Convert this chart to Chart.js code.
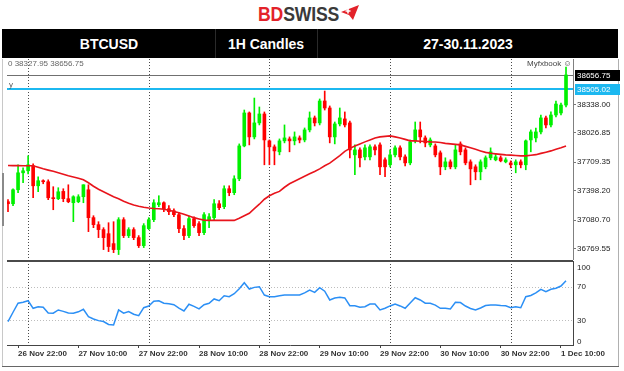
<!DOCTYPE html>
<html>
<head>
<meta charset="utf-8">
<script src="https://cdn.jsdelivr.net/npm/chart.js@4.4.0/dist/chart.umd.min.js"></script>
<style>
body{margin:0;width:624px;height:371px;position:relative;overflow:hidden;background:#fff;font-family:"Liberation Sans",Arial,sans-serif;}
#logo{position:absolute;left:258px;top:2px;font-size:21px;font-weight:bold;line-height:24px;transform:scaleX(0.84);transform-origin:left top;letter-spacing:-0.2px;white-space:nowrap}
#logo .bd{color:#e3222a}
#logo .sw{color:#3a3a3a}
#plane{position:absolute;left:341px;top:5px}
#header{position:absolute;left:2px;top:29px;width:616px;height:29px;background:#000}
.hcell{position:absolute;top:0;height:29px;line-height:30px;color:#fff;font-weight:bold;font-size:14px;text-align:center}
.hsep{position:absolute;top:0;width:1px;height:29px;background:#2a2a2a}
#pw{position:absolute;left:7px;top:59px;width:613px;height:201px}
#rw{position:absolute;left:7px;top:261px;width:613px;height:110px}
.note{position:absolute;font-size:8px;color:#666;white-space:nowrap}
.frame{position:absolute;background:#9a9a9a}
</style>
</head>
<body>
<div id="logo"><span class="bd">BD</span><span class="sw">SWISS</span></div>
<svg id="plane" width="18" height="16" viewBox="0 0 18 16">
<polygon points="0,7 18,0 12,15 8,10" fill="#e3222a"/>
<path d="M7 3.5v5M4.5 6h5" stroke="#fff" stroke-width="1.6"/>
</svg>
<div id="header">
<div class="hcell" style="left:57px;width:100px">BTCUSD</div>
<div class="hsep" style="left:213px"></div>
<div class="hcell" style="left:204px;width:120px">1H Candles</div>
<div class="hsep" style="left:315px"></div>
<div class="hcell" style="left:406px;width:120px">27-30.11.2023</div>
</div>

<div class="frame" style="left:2px;top:59px;width:1px;height:308px;background:#c8c8c8"></div>
<div class="frame" style="left:2px;top:173px;width:2px;height:53px;background:#8a8a8a"></div>
<div class="frame" style="left:618px;top:59px;width:1px;height:308px;background:#b0b0b0"></div>
<div class="frame" style="left:2px;top:366px;width:617px;height:1px;background:#666"></div>

<div id="pw"><canvas id="priceChart"></canvas></div>
<div class="frame" style="left:7px;top:260px;width:566px;height:2px;background:#4a4a4a"></div>
<div id="rw"><canvas id="rsiChart"></canvas></div>

<div class="note" style="left:8px;top:59px">0 38327.95 38656.75</div>
<div class="note" style="left:9px;top:80px;color:#555">y</div>
<div class="note" style="left:527px;top:59px;color:#444">Myfxbook &#9786;</div>

<script>
// BTCUSD 1H candles, 26 Nov 20:00 .. 1 Dec 11:00

const open = [37280,37258,37410,37594,37616,37670,37453,37508,37497,37323,
37313,37392,37313,37269,37280,37334,37410,37107,37031,36977,
36933,36825,36760,37085,36912,36977,36890,36803,36988,37085,
37247,37269,37204,37182,37139,36988,36912,37096,37042,36944,
37085,37107,37258,37226,37421,37378,37529,37886,38244,37984,
38136,38233,37941,37876,37822,37941,37962,37941,37973,37951,
38060,38190,38136,38374,38298,37984,38125,38179,38136,37789,
37843,37767,37767,37876,37897,37735,37681,37789,37865,37767,
37702,37941,38060,37973,37897,37886,37811,37659,37713,37659,
37908,37843,37713,37659,37605,37659,37757,37735,37757,37713,
37702,37681,37713,37681,37951,37973,38038,38190,38114,38222,
38244,38330];

const high = [37302,37421,37681,37648,37778,37692,37551,37518,37518,37443,
37432,37421,37464,37345,37356,37464,37464,37128,37063,36998,
37052,37063,37107,37107,36998,36998,36912,37042,37107,37302,
37345,37280,37237,37204,37161,37020,37128,37117,37063,37161,
37150,37302,37291,37453,37453,37562,37908,38276,38255,38406,
38309,38255,37951,37897,37962,38114,37984,38038,37995,38081,
38255,38211,38396,38482,38320,38146,38298,38255,38157,37897,
37865,37897,37897,37897,37919,37757,37843,37886,37886,37789,
37951,38146,38146,37995,37973,37908,37832,37757,37735,37897,
37930,37865,37735,37681,37735,37778,37865,37800,37778,37757,
37724,37735,37735,37951,38060,38081,38222,38211,38255,38374,
38352,38742];

const low = [37172,37237,37378,37486,37583,37323,37388,37475,37302,37193,
37302,37280,37269,37063,37269,37269,36955,36998,36890,36760,
36738,36727,36706,36890,36890,36868,36782,36782,36977,37063,
37226,37172,37139,37117,36944,36868,36890,37000,36912,36923,
36998,37085,37193,37204,37345,37356,37508,37876,37897,37962,
38114,37681,37681,37681,37789,37919,37822,37897,37919,37930,
38038,38103,38114,38276,37919,37908,38103,38092,37757,37573,
37659,37735,37735,37789,37573,37551,37659,37767,37735,37670,
37681,37919,37919,37876,37876,37767,37573,37627,37637,37637,
37789,37681,37464,37518,37518,37637,37735,37724,37713,37702,
37648,37594,37648,37627,37822,37930,38016,38081,38092,38200,
38222,38309];

const close = [37258,37410,37594,37616,37681,37453,37508,37497,37323,37313,
37388,37313,37280,37334,37334,37464,37107,37031,36977,36890,
36793,36760,37085,36912,36977,36890,36803,37020,37085,37269,
37269,37204,37172,37139,36988,36912,37096,37020,36944,37139,
37117,37258,37215,37421,37378,37529,37886,38244,37984,38136,
38233,37951,37876,37832,37941,37973,37941,37984,37951,38060,
38190,38136,38374,38298,37984,38125,38190,38114,37843,37843,
37757,37865,37876,37843,37659,37659,37789,37865,37767,37702,
37930,38060,37984,37919,37951,37789,37659,37713,37659,37843,
37822,37702,37637,37605,37713,37757,37822,37767,37724,37735,
37681,37713,37681,37941,38038,38038,38190,38114,38222,38341,
38330,38656.75];

// red moving average
const ma = [37673,37672,37672,37671,37670,37670,37654,37637,37623,37610,
37594,37578,37562,37549,37535,37518,37486,37448,37415,37388,
37361,37334,37313,37285,37264,37245,37231,37220,37212,37207,
37204,37199,37188,37174,37161,37145,37125,37107,37093,37080,
37077,37077,37077,37077,37077,37077,37101,37128,37155,37204,
37253,37307,37345,37372,37392,37437,37475,37502,37529,37556,
37583,37608,37637,37670,37699,37740,37781,37827,37859,37886,
37908,37930,37951,37973,37984,37990,37995,37984,37973,37957,
37941,37941,37937,37934,37930,37928,37924,37914,37908,37903,
37897,37881,37865,37849,37832,37816,37807,37800,37794,37789,
37786,37782,37778,37778,37784,37791,37805,37818,37832,37849,
37865,37886];

// RSI panel
const rsi = [28.8,40,50.7,52,53.7,44.7,46.6,46,39,38.8,
42.7,41,39,38.8,40.5,43.5,34.7,32,30,29,
25.5,24.9,42.7,38.8,40.7,37.6,35.9,45.4,47.4,53,
53.7,50.7,50,49,45,41.5,49.5,47,44,49,
50.7,55.8,53.7,59.7,58.5,62,68,75.1,67.6,69.6,
70.4,60.5,58.5,58.5,59.5,60.5,60.5,60.5,60.5,63,
66.4,63.7,69.2,65,54.6,57,57.8,57,47.8,47.8,
45.9,46.5,49.8,49.8,42.7,44.7,47.5,49.8,47.5,44.7,
51,57.3,54.6,50.7,50.7,48.5,44.7,44.7,44,51.8,
51.5,47.4,44.5,42.7,45,48,48.6,48.6,48,47.8,
45.4,46.6,45.4,58.5,60,63,67.3,64.4,67.3,68.5,
71.2,77.5];

const tickIndex = [2,14,26,38,50,62,74,86,98,110];
const tickLabels = ["26 Nov 22:00","27 Nov 10:00","27 Nov 22:00","28 Nov 10:00","28 Nov 22:00",
"29 Nov 10:00","29 Nov 22:00","30 Nov 10:00","30 Nov 22:00","1 Dec 10:00"];
const dayStarts = [4,28,52,76,100];   // 00:00 bars -> period separators
const priceTicks = [38338.00,38026.85,37709.35,37398.20,37080.70,36769.55];
const rsiLevels = [100,70,30,0];
const bidPrice = 38656.75;
const levelPrice = 38505.02;

const bull = "#00f000";
const bear = "#ff0000";
const idx = close.map((c,i)=>i);
const colors = close.map((c,i)=> c>=open[i] ? bull : bear);

const xMin = -0.2, xMax = 112.39;

function fixAxis(w){
return function(scale){
if(w) scale.width = w;
scale.paddingTop = 0; scale.paddingBottom = 0;
scale.paddingLeft = 0; scale.paddingRight = 0;
};
}

// dotted day separators
const separators = {
id:"separators",
beforeDatasetsDraw(chart){
const {ctx, chartArea, scales} = chart;
ctx.save();
ctx.strokeStyle = "#4a4a4a";
ctx.lineWidth = 1;
ctx.setLineDash([1,2]);
dayStarts.forEach(i=>{
const x = Math.round(scales.x.getPixelForValue(i)) + 0.5;
ctx.beginPath();
ctx.moveTo(x, chartArea.top);
ctx.lineTo(x, chartArea.bottom);
ctx.stroke();
});
ctx.restore();
}
};

// bid line + horizontal level with their axis tags
const levels = {
id:"levels",
beforeDatasetsDraw(chart){
const {ctx, chartArea, scales:{y}} = chart;
ctx.save();
const yb = Math.round(y.getPixelForValue(bidPrice)) + 0.5;
ctx.strokeStyle = "#707070";
ctx.lineWidth = 1;
ctx.beginPath(); ctx.moveTo(chartArea.left, yb); ctx.lineTo(chartArea.right, yb); ctx.stroke();
const yl = Math.round(y.getPixelForValue(levelPrice));
ctx.strokeStyle = "#1cb8f0";
ctx.lineWidth = 2;
ctx.beginPath(); ctx.moveTo(chartArea.left, yl); ctx.lineTo(chartArea.right, yl); ctx.stroke();
ctx.restore();
},
afterDraw(chart){
const {ctx, chartArea, scales:{y}} = chart;
ctx.save();
ctx.font = "8px 'Liberation Sans', Arial";
ctx.textBaseline = "middle";
[[bidPrice,"#000"],[levelPrice,"#1cb8f0"]].forEach(([v,bg])=>{
const py = Math.round(y.getPixelForValue(v));
ctx.fillStyle = bg;
ctx.fillRect(chartArea.right+2, py-5, 50, 11);
ctx.fillStyle = "#fff";
ctx.fillText(v.toFixed(2), chartArea.right+4, py+0.5);
});
ctx.restore();
}
};

new Chart(document.getElementById("priceChart"),{
type:"bar",
data:{
datasets:[
{
type:"line",
data:ma.map((v,i)=>({x:i,y:v})),
borderColor:"#e8141c",
borderWidth:1.6,
pointRadius:0,
order:0
},
{
data:idx.map(i=>({x:i,y:[open[i],close[i]]})),
backgroundColor:colors,
barThickness:3,
minBarLength:1,
grouped:false,
order:1
},
{
data:idx.map(i=>({x:i,y:[low[i],high[i]]})),
backgroundColor:colors,
barThickness:1,
grouped:false,
order:2
}
]
},
options:{
responsive:true,
maintainAspectRatio:false,
animation:false,
devicePixelRatio:1,
layout:{padding:0},
plugins:{legend:{display:false},tooltip:{enabled:false}},
scales:{
x:{
type:"linear",
display:false,
offset:false,
min:xMin,
max:xMax
},
y:{
position:"right",
min:36647,
max:38830,
afterBuildTicks:(s)=>{ s.ticks = priceTicks.map(v=>({value:v})); },
afterFit:fixAxis(47),
grid:{drawOnChartArea:false,tickLength:3,color:"#777"},
border:{display:true,color:"#808080"},
ticks:{
padding:1,
color:"#222",
font:{family:"'Liberation Sans', Arial",size:8},
callback:(v)=>Number(v).toFixed(2)
}
}
}
},
plugins:[separators,levels]
});

new Chart(document.getElementById("rsiChart"),{
type:"line",
data:{
datasets:[{
data:rsi.map((v,i)=>({x:i,y:v})),
borderColor:"#2b8ff5",
borderWidth:1.5,
pointRadius:0
}]
},
options:{
responsive:true,
maintainAspectRatio:false,
animation:false,
devicePixelRatio:1,
layout:{padding:0},
plugins:{legend:{display:false},tooltip:{enabled:false}},
scales:{
x:{
type:"linear",
min:xMin,
max:xMax,
afterBuildTicks:(s)=>{ s.ticks = tickIndex.map(v=>({value:v})); },
afterFit:(s)=>{ s.height = 26; s.paddingLeft = 0; s.paddingRight = 0; },
grid:{drawOnChartArea:false,tickLength:3,color:"#444"},
border:{display:true,color:"#444"},
ticks:{
align:"start",
autoSkip:false,
maxRotation:0,
padding:1,
color:"#333",
font:{family:"'Liberation Sans', Arial",size:8,weight:"bold"},
callback:(v)=>tickLabels[tickIndex.indexOf(v)]
}
},
y:{
position:"right",
min:1,
max:101,
afterBuildTicks:(s)=>{
s.ticks = rsiLevels.map(v=>({value: v===100 ? 93.5 : (v===0 ? 5 : v)}));
},
afterFit:fixAxis(47),
grid:{
drawTicks:false,
tickLength:0,
color:(c)=> (c.tick && (c.tick.value===70 || c.tick.value===30)) ? "#bdbdbd" : "rgba(0,0,0,0)"
},
border:{display:true,color:"#444",dash:[1,2]},
ticks:{
padding:4,
color:"#222",
font:{family:"'Liberation Sans', Arial",size:8},
callback:(v)=> v>90 ? "100" : (v<10 ? "0" : String(v))
}
}
}
},
plugins:[separators]
});
</script>
</body>
</html>
